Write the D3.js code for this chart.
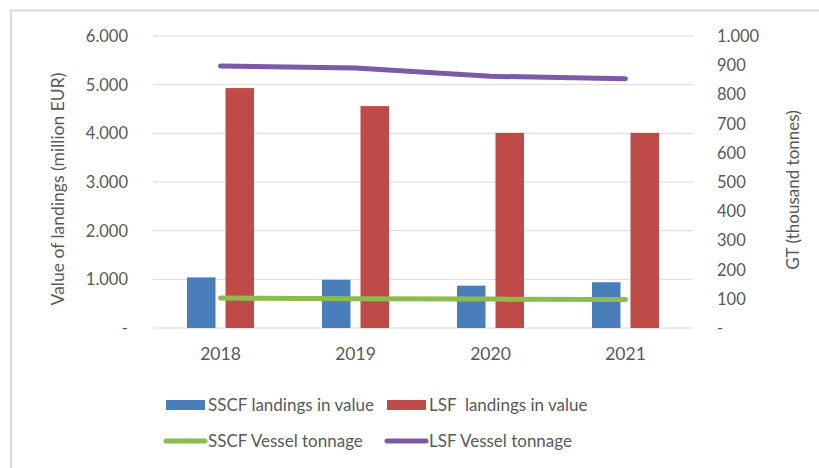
<!DOCTYPE html>
<html><head><meta charset="utf-8">
<script src="https://cdn.jsdelivr.net/npm/d3@7"></script>
<style>body{margin:0;background:#fff;}svg{display:block;font-family:Lato,"Open Sans",sans-serif;}</style>
</head><body><svg id="c" width="819" height="468"></svg>
<script>
const years = ["2018","2019","2020","2021"];
const sscfValue = [1040, 990, 870, 940];
const lsfValue = [4930, 4560, 4010, 4010];
const sscfTonnage = [103, 100, 99, 98];
const lsfTonnage = [897, 890, 862, 854];
const leftTicks = [0,1000,2000,3000,4000,5000,6000];
const rightTicks = [0,100,200,300,400,500,600,700,800,900,1000];
const fmt = v => v === 0 ? "-" : d3.format(",")(v).replace(/,/g, ".");

const svg = d3.select("#c");
const textCol = "#595959";
// frame
svg.append("path").attr("d","M11,468 V10.5 H819").attr("fill","none").attr("stroke","#d9d9d9").attr("stroke-width",2);

const x0 = 153, x1 = 693, yTop = 36, yBot = 328;
const x = d3.scaleBand().domain(years).range([x0, x1]);
const yL = d3.scaleLinear().domain([0,6000]).range([yBot, yTop]);
const yR = d3.scaleLinear().domain([0,1000]).range([yBot, yTop]);

// grid
svg.append("g").selectAll("line").data(leftTicks).join("line")
  .attr("x1", x0).attr("x2", x1).attr("y1", d=>yL(d)).attr("y2", d=>yL(d))
  .attr("stroke","#d9d9d9").attr("stroke-width",1);

// left ticks
svg.append("g").selectAll("text").data(leftTicks).join("text")
  .attr("x",128).attr("y",d=>yL(d)+6).attr("text-anchor","end")
  .attr("font-size",16.5).attr("fill",textCol).text(fmt);
// right ticks
svg.append("g").selectAll("text").data(rightTicks).join("text")
  .attr("x",717).attr("y",d=>yR(d)+6).attr("text-anchor","start")
  .attr("font-size",16.5).attr("fill",textCol).text(fmt);

// x labels
svg.append("g").selectAll("text").data(years).join("text")
  .attr("x",d=>x(d)+x.bandwidth()/2).attr("y",360).attr("text-anchor","middle")
  .attr("font-size",17.5).attr("fill",textCol).text(d=>d);

// axis titles
svg.append("text").attr("transform","translate(64,189) rotate(-90)").attr("text-anchor","middle")
  .attr("font-size",17.5).attr("fill",textCol).text("Value of landings (million EUR)");
svg.append("text").attr("transform","translate(799,190) rotate(-90)").attr("text-anchor","middle")
  .attr("font-size",17).attr("fill",textCol).text("GT (thousand tonnes)");

const inner = d3.scaleBand().domain(["s","l"]).range([-33.5, 33.5]).paddingInner(0.26);
const cx = d => x(d)+x.bandwidth()/2;
svg.append("g").selectAll("rect").data(years).join("rect")
  .attr("x",(d)=>cx(d)+inner("s")).attr("width",inner.bandwidth())
  .attr("y",(d,i)=>yL(sscfValue[i])).attr("height",(d,i)=>yBot-yL(sscfValue[i]))
  .attr("fill","#4a7ebb");
svg.append("g").selectAll("rect").data(years).join("rect")
  .attr("x",(d)=>cx(d)+inner("l")).attr("width",inner.bandwidth())
  .attr("y",(d,i)=>yL(lsfValue[i])).attr("height",(d,i)=>yBot-yL(lsfValue[i]))
  .attr("fill","#be4b48");

const line = arr => d3.line().x((d,i)=>cx(years[i])).y(d=>yR(d))(arr);
svg.append("path").attr("d",line(sscfTonnage)).attr("fill","none").attr("stroke","#8cbb4f").attr("stroke-width",5).attr("stroke-linecap","round");
svg.append("path").attr("d",line(lsfTonnage)).attr("fill","none").attr("stroke","#7c5aa8").attr("stroke-width",5).attr("stroke-linecap","round");

// legend
const lg = svg.append("g");
const legendItems = [
  {t:"SSCF landings in value", c:"#4a7ebb", type:"bar", x:166, y:405},
  {t:"LSF  landings in value", c:"#be4b48", type:"bar", x:387, y:405},
  {t:"SSCF Vessel tonnage", c:"#8cbb4f", type:"line", x:166, y:441},
  {t:"LSF Vessel tonnage", c:"#7c5aa8", type:"line", x:387, y:441}
];
legendItems.forEach(it=>{
  if (it.type==="bar") lg.append("rect").attr("x",it.x).attr("y",it.y-5).attr("width",39).attr("height",10).attr("fill",it.c);
  else lg.append("line").attr("x1",it.x).attr("x2",it.x+39).attr("y1",it.y).attr("y2",it.y).attr("stroke",it.c).attr("stroke-width",5).attr("stroke-linecap","round");
  lg.append("text").attr("x",it.x+42).attr("y",it.y+6).attr("font-size",17).attr("fill",textCol).attr("xml:space","preserve").style("white-space","pre").text(it.t);
});
</script></body></html>
